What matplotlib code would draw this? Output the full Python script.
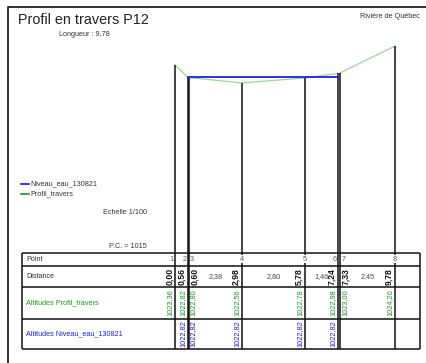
import matplotlib
matplotlib.use("Agg")
import matplotlib.pyplot as plt
from matplotlib.transforms import blended_transform_factory

plt.rcParams['font.family'] = ['Liberation Sans', 'DejaVu Sans']

# ---- data -------------------------------------------------------------
points = ["1", "2", "3", "4", "5", "6", "7", "8"]
distances = [0.00, 0.56, 0.60, 2.98, 5.78, 7.24, 7.33, 9.78]           # m
ground_alt = [1023.36, 1022.82, 1022.80, 1022.56, 1022.78, 1022.98, 1023.00, 1024.20]
water_idx = [1, 2, 3, 4, 5]
water_alt = [1022.82, 1022.82, 1022.82, 1022.82, 1022.82]
plan_comparaison = 1015
scale_label = "Echelle 1/100"
title = "Profil en travers P12"
river = "Rivière de Québec"
series_water = "Niveau_eau_130821"
series_ground = "Profil_travers"

# ---- sheet geometry (pixels) -------------------------------------------
W, H = 426, 363
PX_PER_M = 22.5
X0_PX = 175.0          # where distance 0 sits
PC_Y_PX = 253.0        # table top = comparison plane
TAB_L, TAB_R = 22, 420
ROWS = [253, 265.5, 287, 318.5, 349]

GREEN = "#1a9a1a"
BLUE = "#1f1fe0"
INK = "#111111"
SMALL = 5.2

fig = plt.figure(figsize=(W / 100, H / 100), dpi=100)
fig.patch.set_facecolor("white")

lay = fig.add_axes([0, 0, 1, 1])
lay.set_xlim(0, W)
lay.set_ylim(H, 0)
lay.axis("off")

prof = fig.add_axes([0, 0, 1, 1])
prof.set_xlim((0 - X0_PX) / PX_PER_M, (W - X0_PX) / PX_PER_M)
prof.set_ylim(plan_comparaison + (PC_Y_PX - H) / PX_PER_M,
              plan_comparaison + PC_Y_PX / PX_PER_M)
prof.axis("off")
prof.patch.set_alpha(0)

# x in metres along the section, y in sheet pixels
bt = blended_transform_factory(prof.transData, lay.transData)

# sheet frame
lay.plot([8, 8, W + 5], [H + 5, 7, 7], color="#222222", lw=1.3, solid_capstyle="butt")

# title block
lay.text(18, 20, title, fontsize=10.4, color="#222222", ha="left", va="center")
total = distances[-1] - distances[0]
lay.text(59, 35, "Longueur : " + f"{total:.2f}".replace(".", ","),
         fontsize=SMALL, color="#333333", ha="left", va="center")
lay.text(360, 16, river, fontsize=SMALL, color="#333333", ha="left", va="center")

# legend
lay.plot([21, 29], [184, 184], color=BLUE, lw=1.2)
lay.text(30, 184, series_water, fontsize=SMALL, color="#333333", va="center")
lay.plot([21, 29], [194, 194], color=GREEN, lw=1.2)
lay.text(30, 194, series_ground, fontsize=SMALL, color="#333333", va="center")
lay.text(103, 213, scale_label, fontsize=SMALL, color="#333333", va="center")
lay.text(109, 246, f"P.C. = {plan_comparaison}", fontsize=SMALL, color="#333333", va="center")

# profile and water level
prof.plot(distances, ground_alt, color="#98d698", lw=0.9, zorder=2)
prof.plot([distances[i] for i in water_idx], water_alt, color=BLUE, lw=1.3, zorder=4)

# verticals from each point down to the table bottom
tab_bottom_alt = prof.transData.inverted().transform(
    lay.transData.transform((0, ROWS[-1])))[1]
prof.vlines(distances, tab_bottom_alt, ground_alt, color=INK, lw=1.1, zorder=3)

# table grid
for y in ROWS:
    lay.plot([TAB_L, TAB_R], [y, y], color=INK, lw=1.1, solid_capstyle="butt")
for x in (TAB_L, TAB_R):
    lay.plot([x, x], [ROWS[0], ROWS[-1]], color=INK, lw=1.1, solid_capstyle="butt")

row_mid = [(ROWS[i] + ROWS[i + 1]) / 2 for i in range(4)]
lay.text(26, row_mid[0], "Point", fontsize=SMALL, color="#333333", va="center")
lay.text(26, row_mid[1], "Distance", fontsize=SMALL, color="#333333", va="center")
lay.text(26, row_mid[2], "Altitudes " + series_ground, fontsize=SMALL, color=GREEN, va="center")
lay.text(26, row_mid[3], "Altitudes " + series_water, fontsize=SMALL, color=BLUE, va="center")


def fmt(v):
    return f"{v:.2f}".replace(".", ",")


def side(i):
    """Second point of a near-coincident pair goes right of its line."""
    return i > 0 and distances[i] - distances[i - 1] < 0.2


off = 0.06
for i, (p, d) in enumerate(zip(points, distances)):
    right = side(i)
    paired = i + 1 < len(distances) and distances[i + 1] - d < 0.2
    if right:
        x, ha_p = d + off, "left"
    elif paired or i == 0:
        x, ha_p = d - off, "right"
    else:
        x, ha_p = d, "center"
    prof.text(x, row_mid[0], p, transform=bt, fontsize=SMALL, color="#555555",
              ha=ha_p, va="center", zorder=6,
              bbox=dict(boxstyle="square,pad=0.05", fc="white", ec="none")
              if ha_p == "center" else None)

    ha = "left" if right else "right"
    dx = off if right else -off
    prof.text(d + dx, row_mid[1], fmt(d), transform=bt, rotation=90, fontsize=6.2,
              color=INK, ha=ha, va="center", fontweight="bold", zorder=6)
    prof.text(d + dx, row_mid[2], fmt(ground_alt[i]), transform=bt, rotation=90,
              fontsize=5.3, color=GREEN, ha=ha, va="center", zorder=6)

for k, i in enumerate(water_idx):
    right = side(i)
    ha = "left" if right else "right"
    dx = off if right else -off
    prof.text(distances[i] + dx, row_mid[3], fmt(water_alt[k]), transform=bt, rotation=90,
              fontsize=5.3, color=BLUE, ha=ha, va="center", zorder=6)

# partial distances between points
for i in range(1, len(distances)):
    gap = distances[i] - distances[i - 1]
    if gap > 1.0:
        mid = (distances[i] + distances[i - 1]) / 2
        prof.text(mid, row_mid[1], fmt(gap), transform=bt, fontsize=SMALL,
                  color="#444444", ha="center", va="center", zorder=6)

fig.savefig("out.png", dpi=100, facecolor="white")
